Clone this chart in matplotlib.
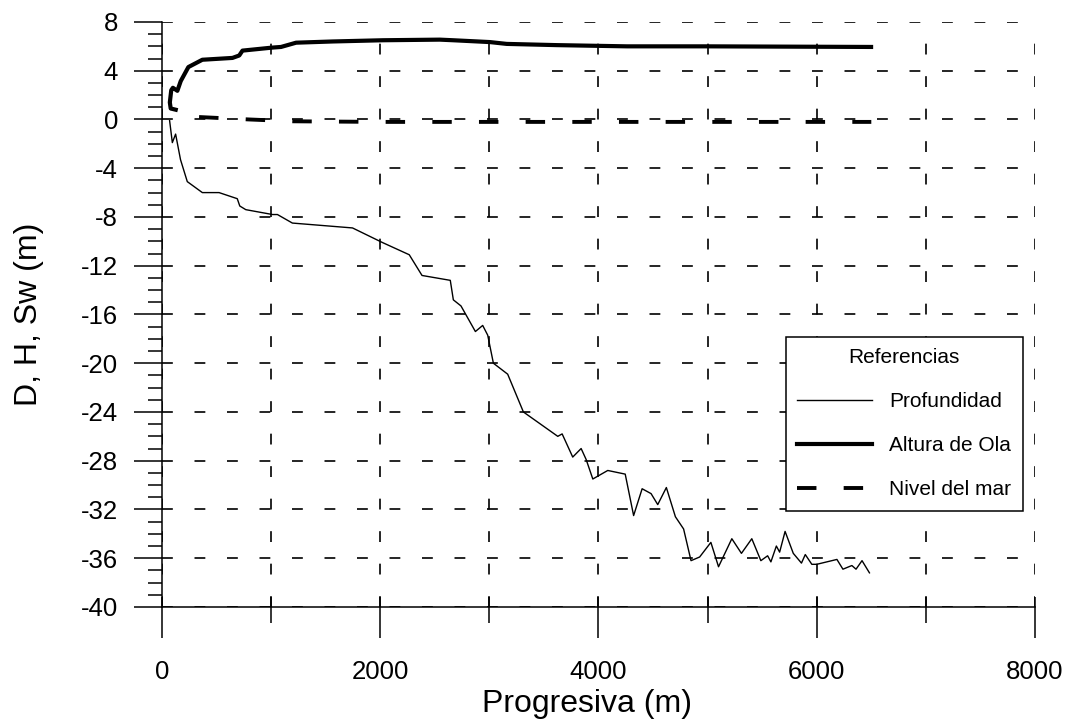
import numpy as np
import matplotlib.pyplot as plt
from matplotlib.ticker import MultipleLocator

# Perfil de profundidad (m)
prof_x = [70, 95, 125, 170, 232, 370, 523, 690, 713, 768, 1013, 1058, 1195, 1746,
          2021, 2266, 2383, 2642, 2670, 2740, 2872, 2939, 2985, 3037, 3168, 3312,
          3627, 3667, 3764, 3841, 3887, 3948, 4085, 4245, 4322, 4400, 4482, 4543,
          4622, 4705, 4780, 4848, 4927, 5030, 5100, 5222, 5310, 5405, 5488, 5550,
          5580, 5630, 5660, 5710, 5785, 5860, 5895, 5955, 6000, 6185, 6240, 6322,
          6360, 6415, 6483]
prof_y = [-0.1, -1.9, -1.2, -3.3, -5.1, -6.0, -6.0, -6.5, -7.1, -7.4, -7.8, -7.8, -8.5, -8.9,
          -10.1, -11.1, -12.8, -13.2, -14.8, -15.3, -17.4, -16.9, -17.7, -20.0, -20.9, -24.0,
          -26.0, -25.8, -27.7, -27.0, -27.9, -29.5, -28.8, -29.1, -32.5, -30.3, -30.7, -31.6,
          -30.2, -32.6, -33.6, -36.2, -35.9, -34.7, -36.7, -34.4, -35.6, -34.4, -36.2, -35.8,
          -36.3, -35.0, -35.5, -33.8, -35.6, -36.4, -35.7, -36.5, -36.5, -36.1, -36.9, -36.6,
          -36.9, -36.2, -37.2]

# Altura de ola (m)
ola_x = [126, 80, 72, 85, 100, 141, 172, 242, 370, 646, 708, 738, 1014, 1091, 1229,
         1565, 2025, 2546, 2668, 3005, 3159, 3618, 4262, 4997, 6498]
ola_y = [0.8, 0.9, 1.4, 2.4, 2.6, 2.35, 3.15, 4.3, 4.9, 5.05, 5.25, 5.65, 5.9, 5.95, 6.3,
         6.4, 6.5, 6.55, 6.5, 6.35, 6.2, 6.1, 6.0, 6.0, 5.95]

# Nivel del mar (m)
nivel_x = [340, 800, 1200, 2000, 3000, 4000, 5000, 6500]
nivel_y = [0.2, 0.0, -0.15, -0.2, -0.2, -0.2, -0.2, -0.2]

plt.rcParams['font.family'] = ['Liberation Sans', 'DejaVu Sans']
plt.rcParams['axes.unicode_minus'] = False

fig = plt.figure(figsize=(10.67, 7.25), dpi=100)
ax = fig.add_axes([0.1518, 0.1628, 0.8182, 0.8069])

ax.plot(prof_x, prof_y, color='k', lw=1.0, label='Profundidad')
ax.plot(ola_x, ola_y, color='k', lw=3.0, label='Altura de Ola')
ax.plot(nivel_x, nivel_y, color='k', lw=2.8, ls=(0, (5, 7)), label='Nivel del mar')

ax.set_xlim(0, 8000)
ax.set_ylim(-40, 8)
ax.xaxis.set_major_locator(MultipleLocator(2000))
ax.xaxis.set_minor_locator(MultipleLocator(1000))
ax.yaxis.set_major_locator(MultipleLocator(4))
ax.yaxis.set_minor_locator(MultipleLocator(1))

grid_ls = (0, (6.5, 13))
ax.grid(True, which='both', axis='x', color='k', lw=1.2, ls=grid_ls)
ax.grid(True, which='major', axis='y', color='k', lw=1.2, ls=grid_ls)
ax.set_axisbelow(True)

for s in ['top', 'right']:
    ax.spines[s].set_visible(False)
for s in ['left', 'bottom']:
    ax.spines[s].set_linewidth(1.1)

ax.tick_params(axis='x', which='major', direction='out', length=22, width=1.1,
               labelsize=18.5, pad=16)
ax.tick_params(axis='x', which='minor', direction='out', length=11.5, width=1.1)
ax.tick_params(axis='y', which='major', direction='out', length=20.5, width=1.1,
               labelsize=18.5, pad=11)
ax.tick_params(axis='y', which='minor', direction='out', length=10, width=1.1)

# parte interior de las marcas del eje x
sec = ax.secondary_xaxis('bottom')
sec.xaxis.set_major_locator(MultipleLocator(1000))
sec.tick_params(direction='in', length=7.2, width=1.1, labelbottom=False)
sec.spines['bottom'].set_visible(False)

ax.set_xlabel('Progresiva (m)', fontsize=23)
ax.xaxis.set_label_coords(0.487, -0.14)
ax.set_ylabel('D, H, Sw (m)', fontsize=23)
ax.yaxis.set_label_coords(-0.135, 0.5)

leg = ax.legend(loc='upper left', bbox_to_anchor=(0.7366, 0.5352),
                bbox_transform=fig.transFigure, borderaxespad=0,
                title='Referencias', fontsize=15, title_fontsize=15,
                handlelength=3.6, handletextpad=0.8, labelspacing=1.2,
                borderpad=0.55, fancybox=False, framealpha=1, edgecolor='k')
leg.get_frame().set_linewidth(1.1)

fig.savefig('out.png', dpi=100)
